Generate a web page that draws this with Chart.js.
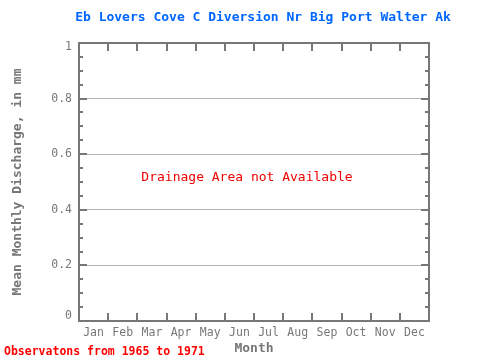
<!DOCTYPE html>
<html>
<head>
<meta charset="utf-8">
<script src="https://cdn.jsdelivr.net/npm/chart.js@4/dist/chart.umd.min.js"></script>
<style>
  html, body { margin: 0; padding: 0; background: #fff; }
  #wrap { width: 480px; height: 360px; }
</style>
</head>
<body>
<div id="wrap"><canvas id="c"></canvas></div>
<script>
const months = ["Jan", "Feb", "Mar", "Apr", "May", "Jun", "Jul", "Aug", "Sep", "Oct", "Nov", "Dec"];
// no discharge values published for this site
const discharge = [null, null, null, null, null, null, null, null, null, null, null, null];
const yTicks = [0, 0.2, 0.4, 0.6, 0.8, 1];
const yMinorStep = 0.05;

const titleText = "Eb Lovers Cove C Diversion Nr Big Port Walter Ak";
const noteText = "Drainage Area not Available";
const footText = "Observatons from 1965 to 1971";

const MONO = "'DejaVu Sans Mono', 'Liberation Mono', monospace";
const GREY = "#777777";

const framePlugin = {
  id: "frame",
  afterDraw(chart) {
    const { ctx, chartArea: a, scales } = chart;
    const y = scales.y;
    ctx.save();
    ctx.strokeStyle = GREY;
    ctx.lineWidth = 2;
    ctx.strokeRect(a.left, a.top, a.right - a.left, a.bottom - a.top);

    // month boundary ticks, top and bottom
    const w = (a.right - a.left) / months.length;
    ctx.beginPath();
    for (let i = 1; i < months.length; i++) {
      const px = Math.round(a.left + i * w);
      ctx.moveTo(px, a.top);
      ctx.lineTo(px, a.top + 8);
      ctx.moveTo(px, a.bottom);
      ctx.lineTo(px, a.bottom - 8);
    }
    // y ticks on both sides
    for (let v = yMinorStep; v < 1; v += yMinorStep) {
      const py = Math.round(y.getPixelForValue(v));
      const major = Math.abs(v * 5 - Math.round(v * 5)) < 1e-6;
      const len = major ? 8 : 4;
      ctx.moveTo(a.left, py);
      ctx.lineTo(a.left + len, py);
      ctx.moveTo(a.right, py);
      ctx.lineTo(a.right - len, py);
    }
    ctx.stroke();

    // end labels of the y axis sit a little inside the frame
    ctx.fillStyle = GREY;
    ctx.font = "11.5px " + MONO;
    ctx.textAlign = "right";
    ctx.textBaseline = "middle";
    ctx.fillText(String(yTicks[yTicks.length - 1]), a.left - 7, y.getPixelForValue(1) + 4);
    ctx.fillText(String(yTicks[0]), a.left - 7, y.getPixelForValue(0) - 5);

    ctx.textAlign = "center";
    ctx.fillStyle = "#0066ff";
    ctx.font = "bold 13px " + MONO;
    ctx.fillText(titleText, 263, 18);

    ctx.fillStyle = "#ee0000";
    ctx.font = "13px " + MONO;
    ctx.fillText(noteText, 247, 178);

    ctx.textAlign = "left";
    ctx.fillStyle = "#ff0000";
    ctx.font = "bold 11.5px " + MONO;
    ctx.fillText(footText, 4, 352);
    ctx.restore();
  }
};

new Chart(document.getElementById("c"), {
  type: "line",
  data: {
    labels: months,
    datasets: [{ data: discharge, borderColor: "#0000ff", pointRadius: 0 }]
  },
  options: {
    responsive: true,
    maintainAspectRatio: false,
    animation: false,
    layout: { padding: { top: 43, right: 51, left: 0, bottom: 0 } },
    plugins: {
      legend: { display: false },
      tooltip: { enabled: false }
    },
    scales: {
      x: {
        type: "category",
        offset: true,
        grid: { display: false, drawTicks: false },
        border: { display: false },
        ticks: { color: GREY, font: { family: MONO, size: 11.5 }, padding: 5, maxRotation: 0, autoSkip: false },
        title: { display: true, text: "Month", color: GREY, font: { family: MONO, size: 13, weight: "bold" }, padding: { top: 0, bottom: 4 } },
        afterFit: (s) => { s.height = 39; }
      },
      y: {
        min: 0,
        max: 1,
        afterBuildTicks: (s) => { s.ticks = yTicks.map((v) => ({ value: v })); },
        grid: {
          drawTicks: false,
          color: (c) => (c.tick.value === 0 || c.tick.value === 1 ? "rgba(0,0,0,0)" : "#b4b4b4"),
          lineWidth: 1
        },
        border: { display: false },
        ticks: {
          color: GREY,
          font: { family: MONO, size: 11.5 },
          padding: 7,
          callback: (v) => (v === 0 || v === 1 ? "" : String(v))
        },
        title: { display: true, text: "Mean Monthly Discharge, in mm", color: GREY, font: { family: MONO, size: 13, weight: "bold" }, padding: { top: 10, bottom: 0 } },
        afterFit: (s) => { s.width = 79; }
      }
    }
  },
  plugins: [framePlugin]
});
</script>
</body>
</html>
